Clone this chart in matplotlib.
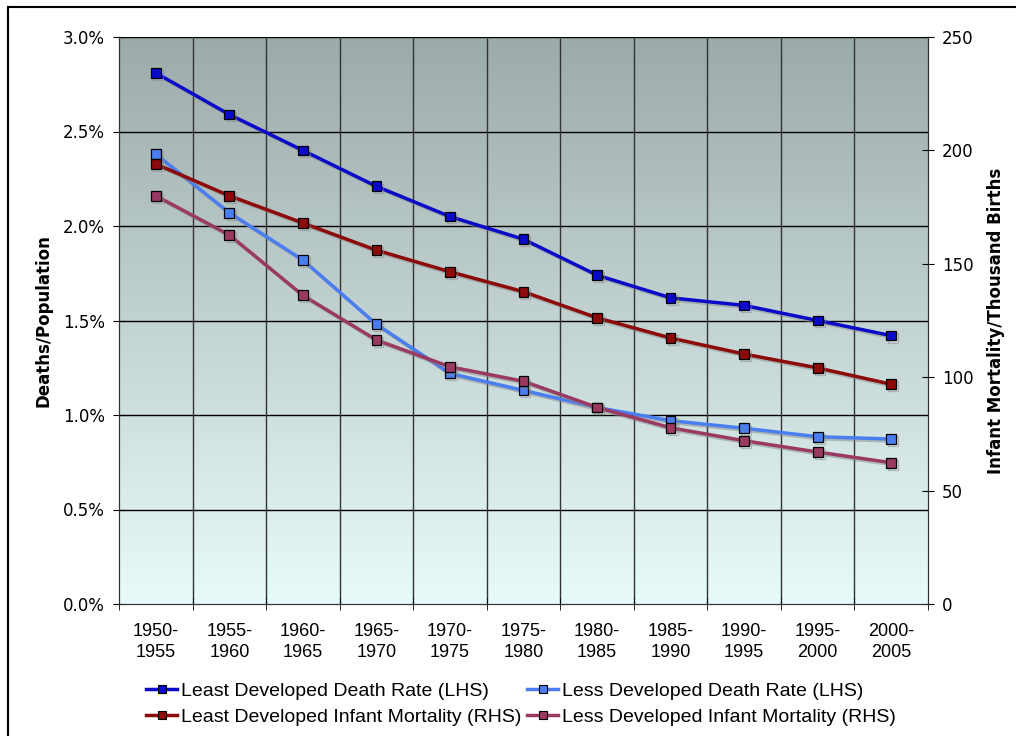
import numpy as np
import matplotlib.pyplot as plt
import matplotlib.patheffects as pe
from matplotlib.lines import Line2D

periods = ["1950-\n1955", "1955-\n1960", "1960-\n1965", "1965-\n1970", "1970-\n1975",
           "1975-\n1980", "1980-\n1985", "1985-\n1990", "1990-\n1995", "1995-\n2000",
           "2000-\n2005"]

# death rates, % of population (left axis)
least_death = [2.81, 2.59, 2.40, 2.21, 2.05, 1.93, 1.74, 1.62, 1.58, 1.50, 1.42]
less_death = [2.38, 2.07, 1.82, 1.48, 1.22, 1.13, 1.04, 0.97, 0.93, 0.885, 0.873]

# infant mortality per thousand births (right axis)
least_infant = [194, 180, 168, 156, 146.5, 137.7, 126.2, 117.3, 110.2, 104.1, 96.9]
less_infant = [180, 162.7, 136.1, 116.4, 104.6, 98.2, 86.7, 77.7, 72.0, 67.0, 62.3]

c_least_death = "#0a0ac8"
c_less_death = "#4a7ef0"
c_least_inf = "#8c0a0a"
c_less_inf = "#9a3a62"

plt.rcParams['font.family'] = ['DejaVu Sans']
narrow = 'Liberation Sans'

fig = plt.figure(figsize=(10.16, 7.36), dpi=100)
ax = fig.add_axes([119 / 1016, 1 - 604 / 736, (928 - 119) / 1016, (604 - 37) / 736])
ax2 = ax.twinx()

x = np.arange(len(periods))
ax.set_xlim(-0.5, len(periods) - 0.5)
ax.set_ylim(0, 3.0)
ax2.set_ylim(0, 250)

# background gradient, grey at top to pale cyan at bottom
grad = np.linspace(0, 1, 256)[:, None]
top = np.array([156, 170, 169]) / 255
bot = np.array([232, 251, 251]) / 255
img = (top * grad[:, :, None] + bot * (1 - grad[:, :, None]))
ax.imshow(img, extent=[-0.5, len(periods) - 0.5, 0, 3.0], origin='lower',
          aspect='auto', zorder=0)

for yv in np.arange(0.5, 3.01, 0.5):
    ax.axhline(yv, color='black', lw=1.0, zorder=1)
for xv in np.arange(0.5, len(periods) - 0.5, 1):
    ax.axvline(xv, color='#333333', lw=1.0, zorder=1)

shadow = [pe.SimpleLineShadow(offset=(1.5, -1.5), shadow_color='#888888', alpha=0.5),
          pe.Normal()]

def draw(axis, vals, color, z):
    axis.plot(x, vals, color=color, lw=2.5, marker='s', markersize=7,
              markerfacecolor=color, markeredgecolor='black', markeredgewidth=0.9,
              path_effects=shadow, zorder=z)

draw(ax, least_death, c_least_death, 5)
draw(ax, less_death, c_less_death, 4)
draw(ax2, least_infant, c_least_inf, 5)
draw(ax2, less_infant, c_less_inf, 4)

ax.set_yticks(np.arange(0, 3.01, 0.5))
ax.set_yticklabels([f"{v:.1f}%" for v in np.arange(0, 3.01, 0.5)], fontsize=12)
ax2.set_yticks(np.arange(0, 251, 50))
ax2.set_yticklabels([str(v) for v in range(0, 251, 50)], fontsize=12)
ax.set_xticks(x)
ax.set_xticklabels(periods, fontsize=13, fontfamily=narrow, linespacing=1.25)
ax.tick_params(axis='x', length=0, pad=14)
ax.set_xticks(np.arange(-0.5, len(periods), 1), minor=True)
ax.tick_params(axis='x', which='minor', length=8, direction='inout')
ax.tick_params(axis='y', length=8, direction='inout', pad=6)
ax2.tick_params(axis='y', length=8, direction='inout', pad=6)

ax.set_ylabel("Deaths/Population", fontsize=12, fontweight='bold', labelpad=8)
ax2.set_ylabel("Infant Mortality/Thousand Births", fontsize=12, fontweight='bold', labelpad=10)

for a in (ax, ax2):
    a.spines['top'].set_visible(False)
    a.spines['left'].set_color('#333333')
    a.spines['right'].set_color('#333333')
    a.spines['bottom'].set_color('#333333')

def handle(color):
    return Line2D([], [], color=color, lw=2.5, marker='s', markersize=6,
                  markeredgecolor='black', markeredgewidth=0.8)

handles = [handle(c_least_death), handle(c_least_inf), handle(c_less_death), handle(c_less_inf)]
labels = ["Least Developed Death Rate (LHS)", "Least Developed Infant Mortality (RHS)",
          "Less Developed Death Rate (LHS)", "Less Developed Infant Mortality (RHS)"]
fig.legend(handles, labels, ncol=2, loc='center', bbox_to_anchor=(521 / 1016, 1 - 704 / 736),
           frameon=False, prop={'family': narrow, 'size': 14},
           handlelength=1.6, handletextpad=0.2, columnspacing=0.3, labelspacing=0.42)

# outer frame (left and top edges visible)
fig.add_artist(Line2D([8 / 1016, 8 / 1016], [0, 1 - 7 / 736], color='black', lw=1.5))
fig.add_artist(Line2D([8 / 1016, 1], [1 - 7 / 736, 1 - 7 / 736], color='black', lw=1.5))

fig.savefig("out.png", dpi=100)
